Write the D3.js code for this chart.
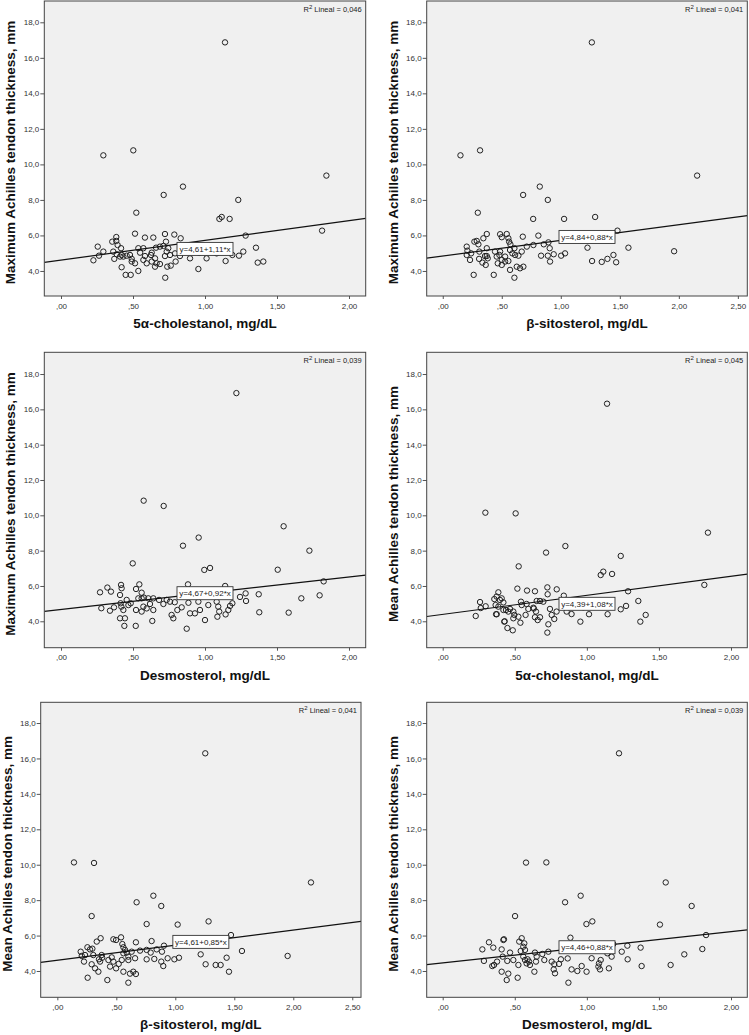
<!DOCTYPE html>
<html>
<head>
<meta charset="utf-8">
<script src="https://cdn.jsdelivr.net/npm/d3@7"></script>
<style>
  body { margin: 0; background: #fff; }
  svg { display: block; font-family: "Liberation Sans", Arial, sans-serif; }
</style>
</head>
<body>
<div id="chart"></div>
<script>
// values: [x, y] per subject
const cholMax = [
  [1.139,16.87],[0.294,10.51],[0.502,10.79],[0.847,8.75],[0.713,8.28],[1.843,9.37],[1.231,8.0],[0.523,7.28],
  [1.10,6.93],[1.116,7.04],[1.171,6.93],[1.813,6.27],[1.282,5.99],[0.514,6.1],[0.583,5.88],[0.641,5.88],
  [0.722,6.08],[0.787,6.05],[0.831,5.84],[0.729,5.65],[0.384,5.91],[0.384,5.69],[0.356,5.65],[0.393,5.46],
  [0.417,5.28],[0.255,5.37],[0.294,5.09],[0.264,4.86],[0.225,4.60],[0.363,5.09],[0.387,4.94],[0.410,4.81],
  [0.370,4.68],[0.421,4.90],[0.433,4.81],[0.456,4.86],[0.479,4.90],[0.491,4.68],[0.491,4.53],[0.514,4.43],
  [0.537,5.28],[0.572,5.28],[0.549,5.03],[0.583,4.84],[0.572,4.62],[0.595,4.43],[0.630,5.03],[0.625,4.90],
  [0.630,4.53],[0.653,4.71],[0.664,4.43],[0.653,4.24],[0.687,5.37],[0.660,5.31],[0.711,5.41],[0.745,5.28],
  [0.734,5.09],[0.757,4.90],[0.722,4.84],[0.687,4.39],[0.738,4.24],[0.762,4.30],[0.796,4.53],[0.826,4.84],
  [0.896,4.71],[0.954,4.11],[1.011,4.71],[1.081,4.99],[1.143,4.56],[1.190,4.90],[1.236,4.86],[1.266,5.09],
  [1.354,5.31],[1.366,4.47],[1.405,4.53],[0.421,4.21],[0.449,3.78],[0.484,3.78],[0.537,4.00],[0.724,3.62],
  [0.792,4.99],[0.96,5.02]
];
const sitoMax = [
  [1.263,16.87],[0.150,10.51],[0.316,10.79],[0.822,8.75],[0.681,8.28],[2.155,9.37],[0.890,8.0],[0.297,7.28],
  [0.766,6.93],[1.028,6.93],[1.291,7.04],[1.480,6.27],[1.960,5.11],[1.226,5.31],[1.573,5.31],[1.265,4.56],
  [1.347,4.51],[1.395,4.68],[1.446,4.90],[1.469,4.49],[1.036,4.99],[1.003,4.86],[0.940,4.94],[0.909,4.53],
  [0.906,5.28],[0.890,4.86],[0.833,4.86],[0.810,5.99],[0.895,5.61],[0.856,5.50],[0.678,5.93],[0.203,5.37],
  [0.209,5.14],[0.203,4.90],[0.240,4.99],[0.231,4.62],[0.268,5.65],[0.288,5.69],[0.302,5.50],[0.344,5.84],
  [0.373,6.08],[0.31,5.09],[0.308,4.68],[0.336,4.47],[0.364,4.34],[0.373,5.28],[0.373,4.84],[0.381,4.71],
  [0.358,4.84],[0.443,5.09],[0.457,4.81],[0.466,4.43],[0.486,6.07],[0.500,5.90],[0.542,6.08],[0.556,5.84],
  [0.562,5.65],[0.573,5.50],[0.570,5.18],[0.590,4.99],[0.613,4.90],[0.607,5.28],[0.486,5.09],[0.480,4.90],
  [0.500,4.62],[0.500,4.34],[0.528,4.81],[0.556,4.56],[0.570,4.06],[0.607,3.62],[0.627,4.24],[0.655,4.15],
  [0.683,4.24],[0.262,3.78],[0.432,3.78],[0.669,5.09],[0.712,5.37],[0.768,5.46],[0.641,4.86],[0.528,4.53]
];
const desmoMax = [
  [1.218,16.92],[0.574,10.83],[0.713,10.53],[0.956,8.74],[0.847,8.28],[1.546,9.38],[1.725,8.0],[0.498,7.28],
  [0.995,6.91],[1.035,7.02],[1.505,6.92],[1.824,6.26],[0.882,6.09],[0.544,6.09],[0.417,6.06],[0.421,5.87],
  [0.322,5.91],[0.271,5.64],[0.347,5.68],[1.373,5.53],[1.669,5.30],[1.282,5.58],[1.285,5.15],[1.243,5.38],
  [1.796,5.47],[1.581,4.49],[1.377,4.51],[0.873,3.58],[0.44,3.74],[0.519,3.74],[0.28,4.74],[0.34,4.6],
  [0.410,5.49],[0.521,5.83],[0.560,5.62],[0.560,5.30],[0.537,5.30],[0.576,5.34],[0.606,5.30],[0.641,5.30],
  [0.681,5.21],[0.734,5.21],[0.757,5.11],[0.368,4.79],[0.414,5.02],[0.419,4.83],[0.456,5.21],[0.468,4.92],
  [0.484,5.02],[0.433,4.64],[0.521,4.64],[0.572,4.83],[0.595,4.73],[0.560,4.55],[0.618,4.98],[0.641,4.64],
  [0.711,4.98],[0.768,4.36],[0.780,4.17],[0.808,4.64],[0.838,4.79],[0.896,4.45],[0.930,4.45],[0.965,4.64],
  [1.0,4.07],[1.023,4.92],[1.081,5.11],[1.092,4.83],[1.099,4.55],[1.086,4.26],[1.143,4.39],[1.162,4.64],
  [1.174,4.87],[1.190,5.02],[0.410,4.17],[0.444,4.17],[0.634,4.02],[0.954,5.11],[1.14,6.0],[0.885,5.05],
  [0.79,5.08]
];
const cholMean = [
  [1.140,16.32],[0.296,10.15],[0.506,10.11],[0.851,8.26],[0.717,7.89],[1.840,9.02],[1.235,7.70],[0.527,7.11],
  [1.096,6.62],[1.114,6.81],[1.175,6.68],[1.815,6.06],[1.286,5.70],[0.518,5.85],[0.585,5.74],[0.640,5.70],
  [0.726,5.92],[0.728,5.53],[0.791,5.81],[1.357,5.15],[1.272,4.87],[1.235,4.68],[1.408,4.36],[1.371,3.98],
  [1.144,4.40],[1.015,4.40],[0.955,3.98],[0.726,3.36],[0.486,3.49],[0.449,3.62],[0.539,3.92],[0.430,4.0],
  [0.375,4.40],[0.229,4.30],[0.264,4.75],[0.259,5.09],[0.298,4.85],[0.386,5.64],[0.374,5.40],[0.358,5.26],
  [0.397,5.21],[0.409,5.30],[0.421,5.07],[0.367,4.92],[0.386,4.83],[0.421,4.64],[0.439,4.64],[0.455,4.55],
  [0.490,4.55],[0.497,4.36],[0.490,4.17],[0.525,4.26],[0.370,4.40],[0.427,3.98],[0.467,4.70],[0.543,5.11],
  [0.548,4.92],[0.582,4.98],[0.594,4.70],[0.575,4.36],[0.629,4.77],[0.652,5.15],[0.675,5.15],[0.698,5.11],
  [0.647,4.55],[0.640,4.23],[0.675,4.23],[0.659,4.07],[0.744,4.70],[0.756,4.36],[0.774,4.13],[0.790,4.55],
  [0.860,4.55],[0.894,4.41],[0.733,3.83],[0.975,4.79],[0.632,4.72],[0.96,4.95],[0.84,5.45]
];
const sitoMean = [
  [1.254,16.29],[0.141,10.13],[0.311,10.10],[0.814,8.25],[0.672,7.88],[2.150,9.0],[0.881,7.67],[0.291,7.10],
  [0.757,6.65],[1.020,6.62],[1.282,6.80],[1.472,6.03],[1.565,5.13],[1.952,4.85],[1.215,4.94],[1.257,4.38],
  [1.342,4.34],[1.384,4.34],[1.435,4.75],[1.455,3.96],[1.031,4.75],[0.992,4.66],[0.935,4.72],[0.898,4.28],
  [0.881,4.53],[0.887,5.09],[0.904,5.43],[0.799,5.69],[0.666,5.62],[0.757,4.66],[0.822,4.68],[0.842,5.22],
  [0.257,3.62],[0.424,3.49],[0.602,3.34],[0.616,3.85],[0.666,3.83],[0.644,3.96],[0.791,5.04],[0.198,5.09],
  [0.207,4.85],[0.235,4.90],[0.226,4.53],[0.255,5.34],[0.277,5.22],[0.297,5.26],[0.334,5.66],[0.367,5.85],
  [0.305,4.90],[0.291,4.38],[0.320,4.15],[0.348,3.96],[0.362,4.53],[0.376,4.90],[0.353,4.66],[0.433,4.62],
  [0.447,4.25],[0.461,4.77],[0.475,4.53],[0.498,4.15],[0.475,5.79],[0.498,5.75],[0.540,5.90],[0.551,5.52],
  [0.560,5.34],[0.574,5.19],[0.560,5.0],[0.588,5.04],[0.602,4.81],[0.546,4.62],[0.602,4.62],[0.560,3.96],
  [0.630,5.09],[0.701,5.15],[0.659,4.72],[0.757,5.19],[0.52,4.4],[0.38,4.75]
];
const desmoMean = [
  [1.223,16.29],[0.578,10.12],[0.719,10.13],[0.957,8.25],[0.849,7.88],[1.547,9.0],[1.727,7.67],[0.502,7.10],
  [0.997,6.65],[1.038,6.80],[1.507,6.62],[1.827,6.03],[0.886,5.88],[1.373,5.32],[1.801,5.24],[1.676,4.94],
  [1.581,4.34],[1.38,4.28],[1.283,4.66],[1.281,5.43],[1.242,5.09],[0.872,3.34],[0.444,3.49],[0.520,3.62],
  [0.455,3.85],[0.275,5.22],[0.286,4.57],[0.321,5.62],[0.351,5.32],[0.344,4.28],[0.356,4.34],[0.377,4.53],
  [0.409,5.22],[0.421,5.75],[0.425,5.79],[0.416,4.81],[0.409,3.96],[0.448,4.57],[0.467,5.04],[0.490,4.62],
  [0.525,4.34],[0.531,5.66],[0.548,5.85],[0.566,5.56],[0.559,5.37],[0.571,5.19],[0.541,5.13],[0.559,4.81],
  [0.571,4.62],[0.589,4.66],[0.599,4.53],[0.582,4.43],[0.605,4.34],[0.640,5.04],[0.647,4.53],[0.636,3.96],
  [0.652,4.81],[0.691,4.96],[0.733,5.09],[0.705,4.62],[0.756,4.53],[0.774,4.38],[0.770,4.09],[0.779,3.87],
  [0.820,4.66],[0.807,4.40],[0.867,4.71],[0.894,4.09],[0.934,4.0],[0.964,4.28],[0.998,3.96],[1.033,4.72],
  [1.080,4.25],[1.091,4.09],[1.084,4.43],[1.096,4.62],[1.142,5.0],[1.153,4.15],[1.172,4.81],[1.183,5.52]
];

// fitted lines: intercept, slope, R² as printed by SPSS
const intercepts = [4.61, 4.84, 4.67, 4.39, 4.61, 4.46];
const slopes = [1.11, 0.88, 0.92, 1.08, 0.85, 0.88];
const r2Labels = ["0,046", "0,041", "0,039", "0,045", "0,041", "0,039"];

const xTitles = ["5α-cholestanol, mg/dL", "β-sitosterol, mg/dL", "Desmosterol, mg/dL",
                 "5α-cholestanol, mg/dL", "β-sitosterol, mg/dL", "Desmosterol, mg/dL"];
const yTitles = ["Maximum Achilles tendon thickness, mm", "Maximum Achilles tendon thickness, mm",
                 "Maximum Achilles tendon thickness, mm", "Mean Achilles tendon thickness, mm",
                 "Mean Achilles tendon thickness, mm", "Mean Achilles tendon thickness, mm"];
const xTicksShort = [0, 0.5, 1, 1.5, 2];
const xTicksLong = [0, 0.5, 1, 1.5, 2, 2.5];
const yTicks = [4, 6, 8, 10, 12, 14, 16, 18];

const series = [cholMax, sitoMax, desmoMax, cholMean, sitoMean, desmoMean];

// panel boxes in page pixels plus axis ranges
const layout = [
  { left: 44.3, right: 365.7, top: 1, bottom: 296, xd: [-0.116, 2.116], yd: [2.59, 19.2], ticks: xTicksShort, below: true },
  { left: 426.7, right: 747.3, top: 1, bottom: 296, xd: [-0.136, 2.58], yd: [2.59, 19.2], ticks: xTicksLong, below: false },
  { left: 44.3, right: 365.7, top: 352.3, bottom: 647.7, xd: [-0.116, 2.116], yd: [2.505, 19.23], ticks: xTicksShort, below: false },
  { left: 426.7, right: 747.3, top: 352.3, bottom: 647.7, xd: [-0.111, 2.113], yd: [2.505, 19.23], ticks: xTicksShort, below: true },
  { left: 40.7, right: 361, top: 702.3, bottom: 997.3, xd: [-0.141, 2.574], yd: [2.515, 19.17], ticks: xTicksLong, below: false },
  { left: 426.7, right: 747.3, top: 702.3, bottom: 997.3, xd: [-0.111, 2.113], yd: [2.515, 19.17], ticks: xTicksShort, below: false }
];

const W = 749, H = 1035;
const svg = d3.select("#chart").append("svg").attr("width", W).attr("height", H);

const comma = (s) => s.replace(".", ",");
const fmtX = (d) => { const s = comma(d3.format(".2f")(d)); return s.startsWith("0,") ? s.slice(1) : s; };
const fmtY = (d) => comma(d3.format(".1f")(d));

series.forEach((pts, i) => {
  const L = layout[i];
  const x = d3.scaleLinear().domain(L.xd).range([L.left, L.right]);
  const y = d3.scaleLinear().domain(L.yd).range([L.bottom, L.top]);
  const g = svg.append("g");

  g.append("rect")
    .attr("x", L.left).attr("y", L.top)
    .attr("width", L.right - L.left).attr("height", L.bottom - L.top)
    .attr("fill", "#f0f0f0");

  const clipId = "clip" + i;
  g.append("clipPath").attr("id", clipId).append("rect")
    .attr("x", L.left).attr("y", L.top)
    .attr("width", L.right - L.left).attr("height", L.bottom - L.top);

  // axes
  const yAxis = g.append("g")
    .attr("transform", `translate(${L.left},0)`)
    .call(d3.axisLeft(y).tickValues(yTicks).tickFormat(fmtY).tickSize(4).tickPadding(1));
  const xAxis = g.append("g")
    .attr("transform", `translate(0,${L.bottom})`)
    .call(d3.axisBottom(x).tickValues(L.ticks).tickFormat(fmtX).tickSize(3).tickPadding(4));
  [xAxis, yAxis].forEach((a) => {
    a.select(".domain").remove();
    a.selectAll("line").attr("stroke", "#555");
    a.selectAll("text").attr("fill", "#333").style("font-size", "8px");
  });

  // points
  g.append("g").selectAll("circle").data(pts).join("circle")
    .attr("cx", (d) => x(d[0])).attr("cy", (d) => y(d[1]))
    .attr("r", 2.7)
    .attr("fill", "none").attr("stroke", "#222").attr("stroke-width", 1);

  // regression line
  const fit = (v) => intercepts[i] + slopes[i] * v;
  g.append("line")
    .attr("clip-path", `url(#${clipId})`)
    .attr("x1", x(L.xd[0])).attr("y1", y(fit(L.xd[0])))
    .attr("x2", x(L.xd[1])).attr("y2", y(fit(L.xd[1])))
    .attr("stroke", "#111").attr("stroke-width", 1.2);

  // frame on top
  g.append("rect")
    .attr("x", L.left).attr("y", L.top)
    .attr("width", L.right - L.left).attr("height", L.bottom - L.top)
    .attr("fill", "none").attr("stroke", "#444").attr("stroke-width", 1);

  // equation box
  const midX = (L.xd[0] + L.xd[1]) / 2;
  const eq = `y=${comma(d3.format(".2f")(intercepts[i]))}+${comma(d3.format(".2f")(slopes[i]))}*x`;
  const boxW = 56, boxH = 13;
  const cx = x(midX);
  const cy = L.below ? y(fit(midX)) + 2 + boxH / 2 : y(fit(midX));
  g.append("rect")
    .attr("x", cx - boxW / 2).attr("y", cy - boxH / 2)
    .attr("width", boxW).attr("height", boxH)
    .attr("fill", "#fff").attr("stroke", "#333").attr("stroke-width", 0.9);
  g.append("text")
    .attr("x", cx).attr("y", cy + 3)
    .attr("text-anchor", "middle")
    .style("font-size", "8px").attr("fill", "#222")
    .text(eq);

  // R² note
  const r2 = g.append("text")
    .attr("x", L.right - 4).attr("y", L.top + 11)
    .attr("text-anchor", "end")
    .style("font-size", "7.5px").attr("fill", "#222");
  r2.append("tspan").text("R");
  r2.append("tspan").attr("dy", -3).style("font-size", "6px").text("2");
  r2.append("tspan").attr("dy", 3).text(` Lineal = ${r2Labels[i]}`);

  // titles
  g.append("text")
    .attr("x", (L.left + L.right) / 2).attr("y", L.bottom + 32)
    .attr("text-anchor", "middle")
    .style("font-size", "13.5px").style("font-weight", "bold").attr("fill", "#111")
    .text(xTitles[i]);
  g.append("text")
    .attr("transform", `translate(${L.left - 29},${(L.top + L.bottom) / 2 + 4}) rotate(-90)`)
    .attr("text-anchor", "middle")
    .style("font-size", "13.5px").style("font-weight", "bold").attr("fill", "#111")
    .text(yTitles[i]);
});
</script>
</body>
</html>
